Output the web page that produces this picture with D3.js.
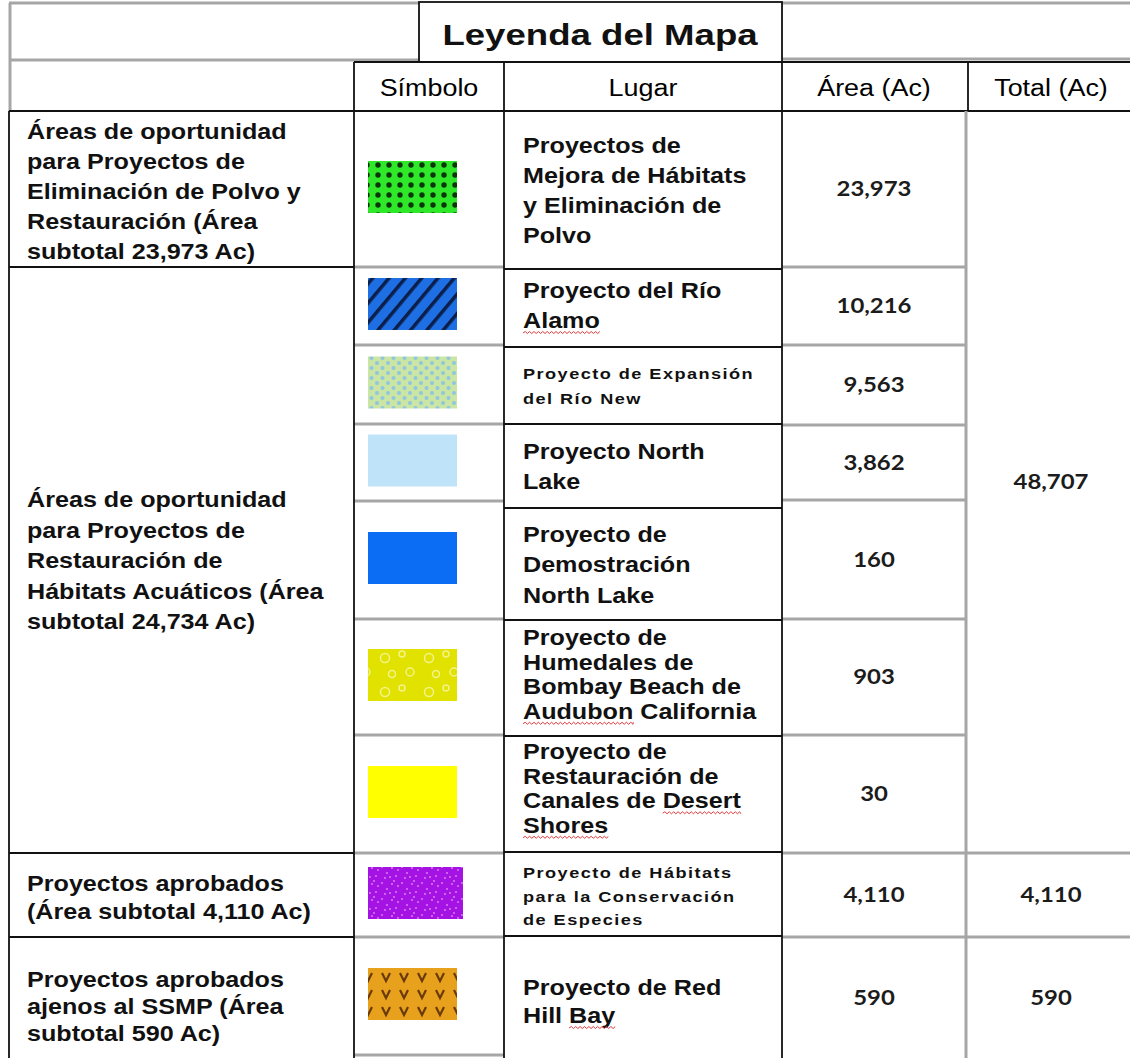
<!DOCTYPE html>
<html><head><meta charset="utf-8">
<script src="https://cdn.jsdelivr.net/npm/d3@7"></script>
<style>body{margin:0;background:#fff}svg{display:block}</style>
</head><body>
<svg id="c" width="1130" height="1058"></svg>
<script>
// ---------------- DATA ----------------
const title = "Leyenda del Mapa";
const headers = ["Símbolo", "Lugar", "Área (Ac)", "Total (Ac)"];
const groupLabels = [
  ["Áreas de oportunidad", "para Proyectos de", "Eliminación de Polvo y", "Restauración (Área", "subtotal 23,973 Ac)"],
  ["Áreas de oportunidad", "para Proyectos de", "Restauración de", "Hábitats Acuáticos (Área", "subtotal 24,734 Ac)"],
  ["Proyectos aprobados", "(Área subtotal 4,110 Ac)"],
  ["Proyectos aprobados", "ajenos al SSMP (Área", "subtotal 590 Ac)"]
];
const groupFirstRow = [0, 1, 7, 8];
const groupLastRow = [0, 6, 7, 8];
const places = [
  ["Proyectos de", "Mejora de Hábitats", "y Eliminación de", "Polvo"],
  ["Proyecto del Río", "Alamo"],
  ["Proyecto de Expansión", "del Río New"],
  ["Proyecto North", "Lake"],
  ["Proyecto de", "Demostración", "North Lake"],
  ["Proyecto de", "Humedales de", "Bombay Beach de", "Audubon California"],
  ["Proyecto de", "Restauración de", "Canales de Desert", "Shores"],
  ["Proyecto de Hábitats", "para la Conservación", "de Especies"],
  ["Proyecto de Red", "Hill Bay"]
];
const symbolKinds = ["greenDots", "blueHatch", "newDots", "lightBlue", "blue", "bombay", "yellow", "purple", "orange"];
const areas = [23973, 10216, 9563, 3862, 160, 903, 30, 4110, 590];
const totals = [48707, 4110, 590];
const totalFirstRow = [0, 7, 8];
const totalLastRow = [6, 7, 8];
// words flagged with red wavy underline: [row, line, word]
const flaggedWords = [[1, 1, "Alamo"], [5, 3, "Audubon"], [6, 2, "Desert"], [6, 3, "Shores"], [8, 1, "Bay"]];

// ---------------- LAYOUT ----------------
const W = 1130, H = 1058;
const SX = 1.17;
const symRows = [111, 267, 345, 424, 501, 619, 735, 853, 937, 1055];
const lugRows = [111, 269, 347, 424, 508, 620, 736, 852, 936, 1058];
const areaRows = [111, 267, 345, 425, 500, 619, 735, 853, 937, 1058];
const smallRows = new Set([2, 7]);
const lugSpacing = [30.3, 30, 25, 30, 30.5, 24.5, 24.5, 23.5, 28];
const lugDy = [0, -3, 0, 0, 0, -4, -6, 2, 4];
const grpSpacing = [30, 30.5, 28, 27];
const grpDy = [2, 0, 2, 10];
const fmt = d3.format(",");

const svg = d3.select("#c");
const defs = svg.append("defs");

// ---------------- PATTERNS ----------------
function pat(id, w, h, bg) {
  const p = defs.append("pattern").attr("id", id).attr("patternUnits", "userSpaceOnUse")
    .attr("width", w).attr("height", h);
  p.append("rect").attr("width", w).attr("height", h).attr("fill", bg);
  return p;
}
let p = pat("greenDots", 11, 10, "#2fe82a");
p.append("circle").attr("cx", 4).attr("cy", 5).attr("r", 2.7).attr("fill", "#0b360a");
p = defs.append("pattern").attr("id", "blueHatch").attr("patternUnits", "userSpaceOnUse")
  .attr("width", 12.5).attr("height", 12.5).attr("patternTransform", "rotate(40)");
p.append("rect").attr("width", 12.5).attr("height", 12.5).attr("fill", "#1e6fe4");
p.append("rect").attr("x", 0).attr("y", 0).attr("width", 3.5).attr("height", 12.5).attr("fill", "#0b1f4a");
p = pat("newDots", 11, 10, "#cbe5a4");
p.append("circle").attr("cx", 3).attr("cy", 3).attr("r", 2).attr("fill", "#8fc7df");
p.append("circle").attr("cx", 8.5).attr("cy", 8).attr("r", 2).attr("fill", "#8fc7df");
p = pat("bombay", 44, 34, "#e2e200");
[[14, 26, 4], [33, 12, 4.5], [40, 28, 3.5], [6, 8, 3]].forEach(c =>
  p.append("circle").attr("cx", c[0]).attr("cy", c[1]).attr("r", c[2]).attr("fill", "none")
   .attr("stroke", "#f3f38a").attr("stroke-width", 1.5));
p = pat("purple", 20, 16, "#a412e4");
[[2, 3], [7, 9], [12, 4], [16, 12], [5, 14], [18, 6], [10, 13], [14, 1]].forEach(c =>
  p.append("circle").attr("cx", c[0]).attr("cy", c[1]).attr("r", 0.9).attr("fill", "#dc8af5"));
p = pat("orange", 18, 17, "#e8a11c");
p.append("path").attr("d", "M4,4 L8,12 L12,4").attr("fill", "none").attr("stroke", "#6a3a08").attr("stroke-width", 2.2);
const solid = { lightBlue: "#bfe3f8", blue: "#0a6df3", yellow: "#ffff00" };

// ---------------- TEXT HELPER ----------------
function txt(str, x, y, o = {}) {
  return svg.append("text")
    .attr("transform", `translate(${x},${y}) scale(${o.sx || SX},1)`)
    .attr("text-anchor", o.anchor || "start")
    .attr("font-family", o.family || "'Liberation Sans', Arial, sans-serif")
    .attr("font-weight", o.weight || "bold")
    .attr("font-size", o.size || 22)
    .attr("letter-spacing", o.ls || 0)
    .attr("fill", o.fill || "#111")
    .text(str);
}

// ---------------- SYMBOLS ----------------
const yMid = (rows, i) => (rows[i] + rows[i + 1]) / 2;
svg.append("g").selectAll("rect").data(symbolKinds).join("rect")
  .attr("x", 368)
  .attr("y", (d, i) => yMid(symRows, i) - 28)
  .attr("width", (d, i) => d === "purple" ? 95 : 89)
  .attr("height", 52)
  .attr("fill", d => solid[d] || `url(#${d})`);

// ---------------- LINES ----------------
const gray = "#a6a6a6", black = "#111";
function line(x1, y1, x2, y2, c, w) {
  svg.append("line").attr("x1", x1).attr("y1", y1).attr("x2", x2).attr("y2", y2)
    .attr("stroke", c).attr("stroke-width", w);
}
line(9, 3, 419, 3, gray, 3); line(782, 3, 1130, 3, gray, 3);
line(9, 60, 419, 60, gray, 3); line(782, 59, 1130, 59, gray, 3);
line(10, 3, 10, 111, gray, 3);
svg.append("rect").attr("x", 419).attr("y", 2).attr("width", 363).attr("height", 60)
  .attr("fill", "none").attr("stroke", black).attr("stroke-width", 1.8);
line(354, 62, 1130, 62, black, 1.8);
line(9, 111, 1130, 111, black, 2);
[354, 504, 782, 968].forEach(x => line(x, 62, x, 111, black, 1.8));
symRows.slice(1).forEach(y => line(354, y, 504, y, gray, 3));
areaRows.slice(1, -1).forEach(y => line(782, y, 966, y, gray, 3));
line(966, 111, 966, 1058, gray, 3);
totalFirstRow.slice(1).forEach(r => line(966, areaRows[r], 1130, areaRows[r], gray, 3));
lugRows.slice(1, -1).forEach(y => line(504, y, 782, y, black, 1.8));
groupFirstRow.slice(1).forEach(r => line(9, symRows[r], 354, symRows[r], black, 1.8));
[9, 354, 504, 782].forEach(x => line(x, 111, x, 1058, black, 1.8));

// ---------------- TEXTS ----------------
txt(title, 600, 45, { anchor: "middle", size: 30, sx: 1.22 });
const headerX = [429, 643, 874, 1051];
headers.forEach((h, i) => txt(h, headerX[i], 96, { anchor: "middle", weight: "normal", size: 23, sx: 1.17, fill: "#000" }));

groupLabels.forEach((lines, g) => {
  const c = (symRows[groupFirstRow[g]] + symRows[groupLastRow[g] + 1]) / 2 + grpDy[g];
  const s = grpSpacing[g];
  lines.forEach((l, k) => txt(l, 27, c + (k - (lines.length - 1) / 2) * s + 8, { size: 21.5 }));
});

const placeNodes = [];
places.forEach((lines, r) => {
  const small = smallRows.has(r);
  const c = yMid(lugRows, r) + lugDy[r];
  const s = lugSpacing[r];
  placeNodes[r] = lines.map((l, k) => {
    const y = c + (k - (lines.length - 1) / 2) * s + (small ? 5.5 : 8);
    const t = txt(l, 523, y, small ? { size: 15.5, ls: 1.25 } : { size: 21.5 });
    return { node: t.node(), y };
  });
});

const numOpts = { anchor: "middle", family: "Lato, 'Open Sans', sans-serif", size: 21, fill: "#1c1c1c", sx: 1.14 };
areas.forEach((a, i) => txt(fmt(a), 874, yMid(areaRows, i) + 7, numOpts));
totals.forEach((t, i) => {
  const c = (areaRows[totalFirstRow[i]] + areaRows[totalLastRow[i] + 1]) / 2;
  txt(fmt(t), 1051, c + 7, numOpts);
});

// ---------------- WAVY UNDERLINES ----------------
flaggedWords.forEach(([r, k, w]) => {
  const { node, y } = placeNodes[r][k];
  const str = node.textContent;
  const idx = str.indexOf(w);
  const x0 = 523 + (idx > 0 ? node.getSubStringLength(0, idx) : 0) * SX;
  const x1 = 523 + node.getSubStringLength(0, idx + w.length) * SX;
  let d = `M${x0},${y + 5}`;
  for (let x = x0, up = true; x < x1; x += 2.2, up = !up) d += ` L${Math.min(x + 2.2, x1)},${y + (up ? 3.5 : 5.5)}`;
  svg.append("path").attr("d", d).attr("fill", "none").attr("stroke", "#e0393b").attr("stroke-width", 1);
});
</script>
</body></html>
